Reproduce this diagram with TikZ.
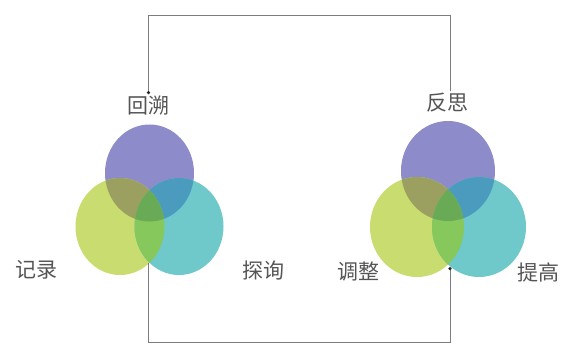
\documentclass[tikz,border=0pt]{standalone}
\usepackage{fontspec}
\newfontfamily\cjk{Noto Sans CJK SC}
\usetikzlibrary{arrows.meta}

\definecolor{ovpurple}{RGB}{141,139,201}
\definecolor{ovlime}{RGB}{200,220,112}
\definecolor{ovteal}{RGB}{111,201,202}
\definecolor{ovolive}{RGB}{155,160,96}
\definecolor{ovblue}{RGB}{75,155,190}
\definecolor{ovgreen}{RGB}{135,200,92}
\definecolor{ovdark}{RGB}{105,170,86}
\definecolor{labelgray}{RGB}{85,85,85}
\definecolor{linegray}{RGB}{125,125,125}

\tikzset{
  lbl/.style={font=\cjk\fontsize{21}{25}\selectfont, text=labelgray, inner sep=2pt},
  flow/.style={draw=linegray, line width=0.8pt, -{Circle[length=3.2pt,color=black!85]}},
}

% three overlapping ovals: #1 cx, #2 top y, #3 lower y, #4 half gap, #5 rx, #6 ry
\newcommand{\ovals}[6]{%
  \fill[ovpurple] (#1,#2) ellipse [x radius=#5, y radius=#6];
  \fill[ovlime] (#1-#4,#3) ellipse [x radius=#5, y radius=#6];
  \fill[ovteal] (#1+#4,#3) ellipse [x radius=#5, y radius=#6];
  \begin{scope}
    \clip (#1,#2) ellipse [x radius=#5, y radius=#6];
    \fill[ovolive] (#1-#4,#3) ellipse [x radius=#5, y radius=#6];
    \fill[ovblue] (#1+#4,#3) ellipse [x radius=#5, y radius=#6];
  \end{scope}
  \begin{scope}
    \clip (#1-#4,#3) ellipse [x radius=#5, y radius=#6];
    \fill[ovgreen] (#1+#4,#3) ellipse [x radius=#5, y radius=#6];
  \end{scope}
  \begin{scope}
    \clip (#1,#2) ellipse [x radius=#5, y radius=#6];
    \clip (#1-#4,#3) ellipse [x radius=#5, y radius=#6];
    \fill[ovdark] (#1+#4,#3) ellipse [x radius=#5, y radius=#6];
  \end{scope}%
}

\begin{document}
\begin{tikzpicture}[x=1pt,y=-1pt]
  \useasboundingbox (0,0) rectangle (561,343);
  \fill[white] (0,0) rectangle (561,343);

  % the two groups
  \ovals{149.5}{173}{226.5}{29.5}{44.5}{48.5}
  \ovals{448}{171}{227}{31}{47}{50}

  % labels
  \node[lbl] (huisu) at (148.5,106) {回溯};
  \node[lbl] (jilu) at (36,270) {记录};
  \node[lbl] (tanxun) at (263,270) {探询};
  \node[lbl] (fansi) at (447,103) {反思};
  \node[lbl] (tiaozheng) at (358,272) {调整};
  \node[lbl] (tigao) at (538,272) {提高};

  % loop between the groups
  \coordinate (topleft) at (148.5,15);
  \coordinate (botleft) at (148.5,342);
  \coordinate (leftcross) at (148.5,263);
  \coordinate (rightcross) at (450,267);
  \draw[flow] ([xshift=3]fansi.north) |- (topleft) -- (huisu.north);
  \draw[flow] (leftcross) -- (botleft) -| (rightcross);
\end{tikzpicture}
\end{document}
